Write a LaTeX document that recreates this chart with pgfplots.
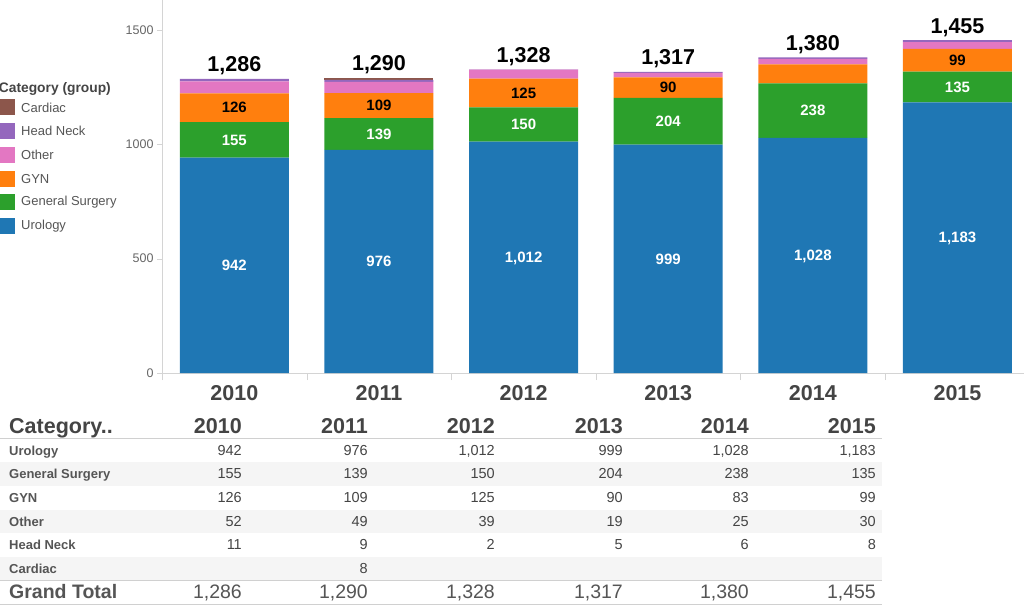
\documentclass[border=0pt]{standalone}
\usepackage{pgfplots}
\usepackage{pgfplotstable}
\pgfplotsset{compat=1.18}
\usepackage{fontspec}
\setmainfont{Liberation Sans}
\definecolor{cUro}{HTML}{1F77B4}
\definecolor{cGen}{HTML}{2CA02C}
\definecolor{cGyn}{HTML}{FF7F0E}
\definecolor{cOth}{HTML}{E377C2}
\definecolor{cHN}{HTML}{9467BD}
\definecolor{cCar}{HTML}{8C564B}
\definecolor{axgray}{HTML}{D4D4D4}
\definecolor{tickgray}{HTML}{666666}
\definecolor{dark}{HTML}{444444}
\definecolor{midg}{HTML}{555555}
\definecolor{band}{HTML}{F5F5F5}
\definecolor{rulec}{HTML}{D0D0D0}
\newcommand{\fs}[1]{\fontsize{#1}{#1}\selectfont}
\tikzset{namest/.style={font=\fs{13}\bfseries, text=midg, inner sep=0pt},
         valst/.style={font=\fs{14.5}, text=dark, inner sep=0pt}}
\newcommand{\trow}[8]{%
  \node[namest, anchor=base west] at (9,#1) {#2};
  \node[valst, anchor=base east] at (242,#1) {#3};
  \node[valst, anchor=base east] at (368,#1) {#4};
  \node[valst, anchor=base east] at (495,#1) {#5};
  \node[valst, anchor=base east] at (623,#1) {#6};
  \node[valst, anchor=base east] at (749,#1) {#7};
  \node[valst, anchor=base east] at (876,#1) {#8};
}
% x  Urology GenSurg GYN Other HeadNeck Cardiac, then labels
\pgfplotstableread{
x uro  gen gyn oth hn car luro  lgen lgyn ltot
0 942  155 126 52  11 0   942   155  126  1,286
1 976  139 109 49  9  8   976   139  109  1,290
2 1012 150 125 39  2  0   1,012 150  125  1,328
3 999  204 90  19  5  0   999   204  90   1,317
4 1028 238 83  25  6  0   1,028 238  {}   1,380
5 1183 135 99  30  8  0   1,183 135  99   1,455
}\data
\pgfplotsset{common/.style={
  at={(162pt,235pt)}, anchor=south west,
  scale only axis, width=862pt, height=373pt,
  xmin=-0.5, xmax=5.46, ymin=0, ymax=1631}}
\begin{document}
\begin{tikzpicture}
\path[use as bounding box] (0pt,0pt) rectangle (1024pt,608pt);
\begin{axis}[
  common,
  ybar stacked, bar width=109pt,
  axis x line*=bottom, axis y line*=left,
  axis line style={draw=axgray, line width=0.8pt},
  tick align=outside,
  major tick length=5pt, minor tick length=7pt,
  xtick={0,...,5},
  xticklabels={2010,2011,2012,2013,2014,2015},
  minor xtick={-0.5,0.5,...,5.5},
  major x tick style={draw=none},
  minor x tick style={draw=axgray},
  ytick={0,500,1000,1500},
  yticklabels={0,500,1000,1500},
  major y tick style={draw=axgray},
  xticklabel style={font=\fs{21.5}\bfseries, text=dark, yshift=-4pt},
  yticklabel style={font=\fs{12.5}, text=tickgray},
]
\addplot[fill=cUro, draw=none] table[x=x, y=uro] {\data};
\addplot[fill=cGen, draw=none] table[x=x, y=gen] {\data};
\addplot[fill=cGyn, draw=none] table[x=x, y=gyn] {\data};
\addplot[fill=cOth, draw=none] table[x=x, y=oth] {\data};
\addplot[fill=cHN, draw=none] table[x=x, y=hn] {\data};
\addplot[fill=cCar, draw=none] table[x=x, y=car] {\data};
\end{axis}
\begin{axis}[
  common, hide axis, clip=false,
  point meta=explicit symbolic,
  nodes near coords,
  nodes near coords style={font=\fs{15}\bfseries, anchor=center, inner sep=0pt, text depth=0pt},
]
\addplot[only marks, mark=none, nodes near coords style={text=white}]
  table[x=x, y expr=\thisrow{uro}/2, meta=luro] {\data};
\addplot[only marks, mark=none, nodes near coords style={text=white}]
  table[x=x, y expr=\thisrow{uro}+\thisrow{gen}/2, meta=lgen] {\data};
\addplot[only marks, mark=none, nodes near coords style={text=black}]
  table[x=x, y expr=\thisrow{uro}+\thisrow{gen}+\thisrow{gyn}/2, meta=lgyn] {\data};
\addplot[only marks, mark=none, nodes near coords style={text=black, font=\fs{21.5}\bfseries, anchor=base, yshift=7pt}]
  table[x=x, y expr=\thisrow{uro}+\thisrow{gen}+\thisrow{gyn}+\thisrow{oth}+\thisrow{hn}+\thisrow{car}, meta=ltot] {\data};
\end{axis}
\begin{scope}[x=1pt,y=-1pt,shift={(0pt,608pt)}]
  % legend
  \node[anchor=base east, font=\fs{13.8}\bfseries, text=dark, inner sep=0pt] at (111,93) {Category (group)};
  \foreach \c/\t [count=\i] in {cCar/Cardiac, cHN/Head Neck, cOth/Other, cGyn/GYN, cGen/General Surgery, cUro/Urology} {
    \pgfmathsetmacro\yy{107.5+(\i-1)*23.7}
    \fill[\c] (0,\yy-8) rectangle (15,\yy+8);
    \node[anchor=west, font=\fs{13}, text=midg, inner sep=0pt] at (21,\yy) {\t};
  }
  % table
  \fill[band] (0,462) rectangle (882,485.5);
  \fill[band] (0,509.5) rectangle (882,533);
  \fill[band] (0,556.5) rectangle (882,580);
  \draw[rulec, line width=0.8pt] (0,438) -- (882,438);
  \draw[rulec, line width=0.8pt] (0,580) -- (882,580);
  \draw[rulec, line width=0.8pt] (0,604) -- (882,604);
  \begin{scope}[namest/.style={font=\fs{21.5}\bfseries, text=dark, inner sep=0pt},
                valst/.style={font=\fs{21.5}\bfseries, text=dark, inner sep=0pt}]
    \trow{433.3}{Category..}{2010}{2011}{2012}{2013}{2014}{2015}
  \end{scope}
  \trow{455}{Urology}{942}{976}{1,012}{999}{1,028}{1,183}
  \trow{478.7}{General Surgery}{155}{139}{150}{204}{238}{135}
  \trow{502.4}{GYN}{126}{109}{125}{90}{83}{99}
  \trow{526.1}{Other}{52}{49}{39}{19}{25}{30}
  \trow{549.8}{Head Neck}{11}{9}{2}{5}{6}{8}
  \trow{573.5}{Cardiac}{}{8}{}{}{}{}
  \begin{scope}[namest/.style={font=\fs{19.5}\bfseries, text=midg, inner sep=0pt},
                valst/.style={font=\fs{19.5}, text=midg, inner sep=0pt}]
    \trow{598.3}{Grand Total}{1,286}{1,290}{1,328}{1,317}{1,380}{1,455}
  \end{scope}
\end{scope}
\end{tikzpicture}
\end{document}
